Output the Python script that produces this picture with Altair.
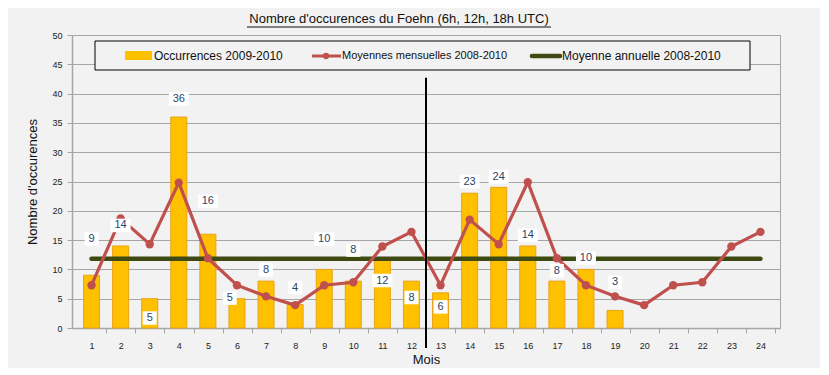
import altair as alt
import pandas as pd

# ---- data ----
months = list(range(1, 25))
bar_months = list(range(1, 20))
occurrences = [9, 14, 5, 36, 16, 5, 8, 4, 10, 8, 12, 8, 6, 23, 24, 14, 8, 10, 3]
monthly_mean = [7.3, 18.7, 14.3, 24.8, 11.9, 7.3, 5.4, 3.9, 7.3, 7.8, 13.9, 16.4,
                7.3, 18.5, 14.3, 24.9, 11.9, 7.3, 5.4, 3.9, 7.3, 7.8, 13.9, 16.4]
annual_mean = 11.8
label_x = [1, 2, 3, 4, 5, 5.75, 7, 8, 9, 10, 11, 12, 13, 14, 15, 16, 17, 18, 19]
label_y = [15.2, 17.5, 1.7, 39.1, 21.6, 5.1, 9.9, 6.9, 15.2, 13.3, 8.1, 5.2,
           3.6, 25.0, 25.8, 15.8, 9.8, 11.9, 7.8]
y_ticks = list(range(0, 51, 5))

# ---- tables ----
bars_df = pd.DataFrame({"mois": bar_months, "occ": occurrences})
line_df = pd.DataFrame({"mois": months, "moy": monthly_mean})
lab_df = pd.DataFrame({"x": label_x, "y": label_y, "t": [str(v) for v in occurrences]})
lab_df["w"] = lab_df["t"].str.len().map({1: 14, 2: 20})
lab_df["y0"] = lab_df["y"] - 1.15
lab_df["y1"] = lab_df["y"] + 1.15
ann_df = pd.DataFrame({"x1": [months[0]], "x2": [months[-1]], "y": [annual_mean]})
sep_df = pd.DataFrame({"x": [12.5], "y1": [42.7], "y2": [-3.4]})
one = pd.DataFrame({"a": [0]})

W, H = 708, 293
FONT = "Liberation Sans"
GRID = "#A6A6A6"

xs = alt.Scale(domain=[0.5, 24.5], nice=False, zero=False)
ys = alt.Scale(domain=[0, 50], nice=False)

band = W / 24.0
x_axis = alt.Axis(values=months, title="Mois", grid=False, tickOffset=band / 2,
                  labelOffset=-band / 2, tickSize=5, tickColor=GRID, domainColor=GRID,
                  domainWidth=1.5, labelFont=FONT, labelFontSize=9, labelColor="#222222",
                  labelPadding=8, labelOverlap=False, titleFont=FONT, titleFontSize=13,
                  titleFontWeight="normal", titleColor="#111111", titlePadding=3, format="d")
y_axis = alt.Axis(values=y_ticks, title="Nombre d'occurences", grid=True, gridColor=GRID,
                  tickSize=5, tickColor=GRID, domainColor=GRID, domainWidth=1.5,
                  labelFont=FONT, labelFontSize=9, labelColor="#222222", labelPadding=5,
                  labelOverlap=False, titleFont=FONT, titleFontSize=13, titleFontWeight="normal",
                  titleColor="#111111", titlePadding=12, format="d")


def X(field):
    return alt.X(field, scale=xs, axis=x_axis)


def Y(field):
    return alt.Y(field, scale=ys, axis=y_axis)


bars = alt.Chart(bars_df).mark_bar(size=16, color="#FFC000", stroke="#E8A317",
                                   strokeWidth=1, orient="vertical").encode(
    x=X("mois:Q"), y=Y("occ:Q"),
)

annual = alt.Chart(ann_df).mark_rule(color="#3E4A12", strokeWidth=4.5, strokeCap="round").encode(
    x=X("x1:Q"), x2="x2:Q", y=Y("y:Q")
)

monthly = alt.Chart(line_df).mark_line(color="#C0504D", strokeWidth=3.2,
                                       point=alt.OverlayMarkDef(color="#C0504D", size=70, filled=True, opacity=1)).encode(
    x=X("mois:Q"), y=Y("moy:Q")
)

lab_box = alt.Chart(lab_df).mark_bar(color="white", orient="vertical").encode(
    x=X("x:Q"), y=Y("y0:Q"), y2="y1:Q",
    size=alt.Size("w:Q", scale=None, legend=None)
)
lab_txt = alt.Chart(lab_df).mark_text(font=FONT, fontSize=11, color="#2A4468",
                                      baseline="middle", align="center").encode(
    x=X("x:Q"), y=Y("y:Q"), text="t:N"
)

sep = alt.Chart(sep_df).mark_rule(color="black", strokeWidth=2).encode(
    x=X("x:Q"), y=Y("y1:Q"), y2="y2:Q"
)

# ---- title with underline ----
title_txt = alt.Chart(one).mark_text(text="Nombre d'occurences du Foehn (6h, 12h, 18h UTC)",
                                     font=FONT, fontSize=13, color="#111111",
                                     align="center", baseline="middle").encode(
    x=alt.value(327), y=alt.value(-16)
)
title_ul = alt.Chart(one).mark_rule(color="#111111", strokeWidth=1).encode(
    x=alt.value(175), x2=alt.value(479), y=alt.value(-8)
)

# ---- legend box ----
leg_box = alt.Chart(one).mark_rect(fill="#F2F2F2", stroke="black", strokeWidth=1).encode(
    x=alt.value(23), x2=alt.value(678), y=alt.value(6), y2=alt.value(35)
)
leg_sw1 = alt.Chart(one).mark_rect(color="#FFC000").encode(
    x=alt.value(53), x2=alt.value(80), y=alt.value(16), y2=alt.value(25)
)
leg_t1 = alt.Chart(one).mark_text(text="Occurrences 2009-2010", font=FONT, fontSize=12,
                                  color="#111111", align="left", baseline="middle").encode(
    x=alt.value(82), y=alt.value(21)
)
leg_sw2 = alt.Chart(one).mark_rule(color="#C0504D", strokeWidth=3).encode(
    x=alt.value(240), x2=alt.value(269), y=alt.value(21)
)
leg_pt2 = alt.Chart(one).mark_point(color="#C0504D", filled=True, size=40, opacity=1).encode(
    x=alt.value(254), y=alt.value(21)
)
leg_t2 = alt.Chart(one).mark_text(text="Moyennes mensuelles 2008-2010", font=FONT, fontSize=11,
                                  color="#111111", align="left", baseline="middle").encode(
    x=alt.value(270), y=alt.value(21)
)
leg_sw3 = alt.Chart(one).mark_rule(color="#3E4A12", strokeWidth=4.5, strokeCap="round").encode(
    x=alt.value(460), x2=alt.value(488), y=alt.value(21)
)
leg_t3 = alt.Chart(one).mark_text(text="Moyenne annuelle 2008-2010", font=FONT, fontSize=12,
                                  color="#111111", align="left", baseline="middle").encode(
    x=alt.value(490), y=alt.value(21)
)

chart = alt.layer(
    bars, annual, monthly, lab_box, lab_txt, sep,
    leg_box, leg_sw1, leg_t1, leg_sw2, leg_pt2, leg_t2, leg_sw3, leg_t3,
    title_txt, title_ul,
).properties(
    width=W, height=H,
    autosize=alt.AutoSizeParams(type="none"),
    padding={"left": 64, "top": 27, "right": 40, "bottom": 40},
    background="#F2F2F2",
).configure_view(stroke=GRID, strokeWidth=1)

chart.save("out.html", embed_options={"renderer": "svg", "actions": False})
